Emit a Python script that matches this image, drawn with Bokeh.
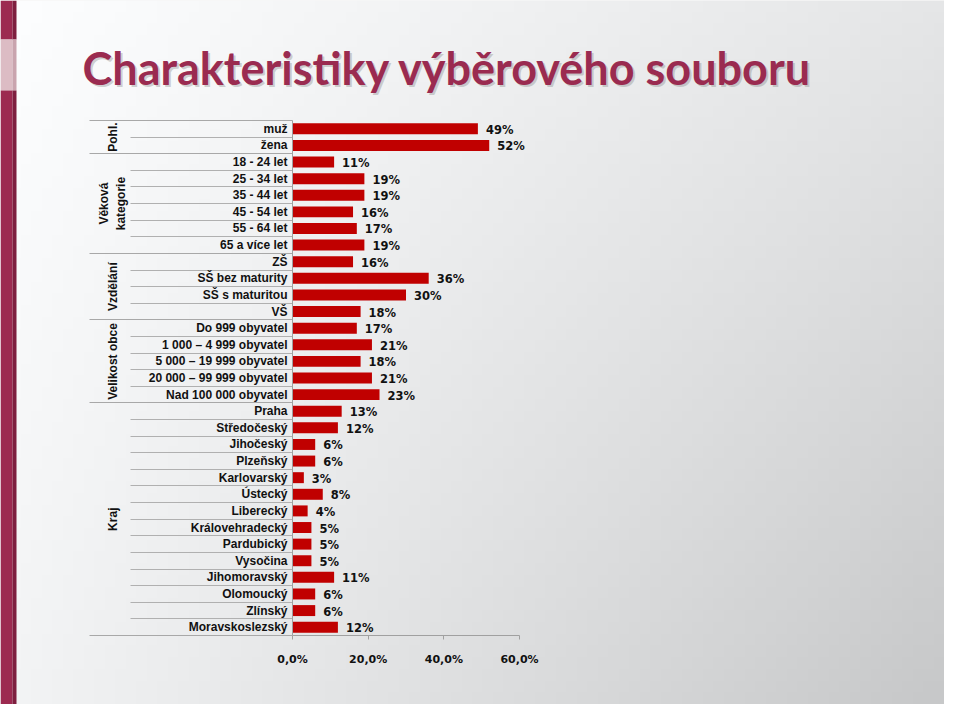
import math
import numpy as np
from bokeh.plotting import figure
from bokeh.models import Range1d, LinearAxis, FixedTicker
from bokeh.core.properties import value
from bokeh.embed import file_html
from bokeh.resources import INLINE

# ---------------- data ----------------
title_text = "Charakteristiky výběrového souboru"
groups = ["Pohl.", "Věková\nkategorie", "Vzdělání", "Velikost obce", "Kraj"]
group_sizes = [2, 6, 4, 5, 14]
categories = [
    "muž", "žena",
    "18 - 24 let", "25 - 34 let", "35 - 44 let", "45 - 54 let", "55 - 64 let", "65 a více let",
    "ZŠ", "SŠ bez maturity", "SŠ s maturitou", "VŠ",
    "Do 999 obyvatel", "1 000 – 4 999 obyvatel", "5 000 – 19 999 obyvatel",
    "20 000 – 99 999 obyvatel", "Nad 100 000 obyvatel",
    "Praha", "Středočeský", "Jihočeský", "Plzeňský", "Karlovarský", "Ústecký",
    "Liberecký", "Královehradecký", "Pardubický", "Vysočina", "Jihomoravský",
    "Olomoucký", "Zlínský", "Moravskoslezský",
]
values = [49, 52,
          11, 19, 19, 16, 17, 19,
          16, 36, 30, 18,
          17, 21, 18, 21, 23,
          13, 12, 6, 6, 3, 8, 4, 5, 5, 5, 11, 6, 6, 12]
x_ticks = [0, 20, 40, 60]
x_tick_labels = ["0,0%", "20,0%", "40,0%", "60,0%"]

# ---------------- layout helpers ----------------
W, H = 944, 704
X0 = 292.0               # canvas x of 0 %
PX_PER = 227.0 / 60.0    # pixels per percent
ROW_TOP = 120.0          # canvas y of top of first row
PITCH = 515.0 / 31.0     # row pitch in pixels


def px2x(cx):
    return (cx - X0) / PX_PER


def px2y(cy):
    return (cy - ROW_TOP) / PITCH - 0.5


n = len(categories)
rows = list(range(n))

p = figure(width=W, height=H,
           x_range=Range1d(px2x(0), px2x(W)),
           y_range=Range1d(px2y(H), px2y(0)),
           x_axis_type=None, y_axis_type=None,
           toolbar_location=None, output_backend="svg",
           title=None, min_border=0,
           outline_line_color=None,
           background_fill_color="#f0f0f0", border_fill_color="#f0f0f0")
p.extra_x_ranges = {"bg": Range1d(0, W)}
p.extra_y_ranges = {"bg": Range1d(0, H)}

# background gradient (decoration)
ny, nx = 60, 90
yy, xx = np.mgrid[0:ny, 0:nx].astype(float)
yf = 1.0 - yy / (ny - 1)   # fraction from top (row 0 is bottom)
xf = xx / (nx - 1)
v = 254 - 24 * xf - 10 * yf - 20 * xf * yf
img = np.empty((ny, nx), dtype=np.uint32)
view = img.view(dtype=np.uint8).reshape((ny, nx, 4))
view[..., 0] = np.clip(v - 1, 0, 255).astype(np.uint8)
view[..., 1] = np.clip(v, 0, 255).astype(np.uint8)
view[..., 2] = np.clip(v + 1, 0, 255).astype(np.uint8)
view[..., 3] = 255
p.image_rgba(image=[img], x=0, y=0, dw=W, dh=H, x_range_name="bg", y_range_name="bg")

# left strip (decoration)
p.quad(left=[0, 0, 0], right=[12, 12, 12], top=[H, H - 39, H - 90], bottom=[H - 39, H - 90, 0],
       fill_color=["#9c2a50", "#dcbcc4", "#9c2a50"], line_color=None,
       x_range_name="bg", y_range_name="bg")
p.quad(left=[12, 12, 12], right=[16, 16, 16], top=[H, H - 39, H - 90], bottom=[H - 39, H - 90, 0],
       fill_color=["#7e1f3f", "#c9a4ae", "#7e1f3f"], line_color=None,
       x_range_name="bg", y_range_name="bg")

# title with soft shadow
p.text(x=[84], y=[H - 69], text=[title_text], text_font=value("Lato"), text_font_style="bold",
       text_font_size="45px", text_color="#808080", text_alpha=0.35, text_baseline="alphabetic",
       x_range_name="bg", y_range_name="bg")
p.text(x=[82], y=[H - 67], text=[title_text], text_font=value("Lato"), text_font_style="bold",
       text_font_size="45px", text_color="#9a2b50", text_baseline="alphabetic",
       x_range_name="bg", y_range_name="bg")

# bars
p.hbar(y=rows, left=0, right=values, height=0.66, fill_color="#c00000", line_color=None)
p.text(x=values, y=rows, text=[f"{v}%" for v in values], x_offset=8, y_offset=1,
       text_font=value("DejaVu Sans"), text_font_style="bold", text_font_size="11.5px",
       text_color="#111111", text_baseline="middle", text_align="left")

# group labels
starts = np.cumsum([0] + group_sizes[:-1])
centers = [s + (g - 1) / 2 for s, g in zip(starts, group_sizes)]
p.text(x=[px2x(112)] * len(groups), y=centers, text=groups, angle=math.pi / 2,
       text_font=value("Liberation Sans"), text_font_style="bold", text_font_size="12px",
       text_color="#111111", text_align="center", text_baseline="middle", text_line_height=1.25)

# separators as long ticks
group_bounds = [-0.5] + [s + g - 0.5 for s, g in zip(starts, group_sizes)]
inner_bounds = [i - 0.5 for i in range(n + 1) if (i - 0.5) not in group_bounds]

sep_inner = LinearAxis(fixed_location=0, ticker=FixedTicker(ticks=inner_bounds),
                       major_tick_out=162, major_tick_in=0, major_tick_line_color="#b0b0b0",
                       minor_tick_line_color=None, axis_line_color=None,
                       major_label_text_color=None)
sep_group = LinearAxis(fixed_location=0, ticker=FixedTicker(ticks=group_bounds),
                       major_tick_out=203, major_tick_in=0, major_tick_line_color="#a8a8a8",
                       minor_tick_line_color=None, axis_line_color=None,
                       major_label_text_color=None)
p.add_layout(sep_inner, "left")
p.add_layout(sep_group, "left")

cat_axis = LinearAxis(fixed_location=0, ticker=FixedTicker(ticks=rows),
                      major_label_overrides={i: c for i, c in enumerate(categories)},
                      bounds=(-0.5, n - 0.5), major_tick_line_color=None, minor_tick_line_color=None,
                      major_tick_out=0, major_tick_in=0,
                      axis_line_color="#a0a0a0", major_label_standoff=5,
                      major_label_text_font="Liberation Sans", major_label_text_font_style="bold",
                      major_label_text_font_size="12px", major_label_text_color="#111111")
p.add_layout(cat_axis, "left")

x_axis = LinearAxis(fixed_location=n - 0.5, ticker=FixedTicker(ticks=x_ticks),
                    major_label_overrides=dict(zip(x_ticks, x_tick_labels)),
                    bounds=(0, 60), axis_line_color="#a0a0a0", major_tick_line_color="#a0a0a0",
                    major_tick_out=4, major_tick_in=0, minor_tick_line_color=None,
                    major_label_standoff=13,
                    major_label_text_font="DejaVu Sans", major_label_text_font_style="bold",
                    major_label_text_font_size="11px", major_label_text_color="#111111")
p.add_layout(x_axis, "below")

open("out.html", "w").write(file_html(p, INLINE))
